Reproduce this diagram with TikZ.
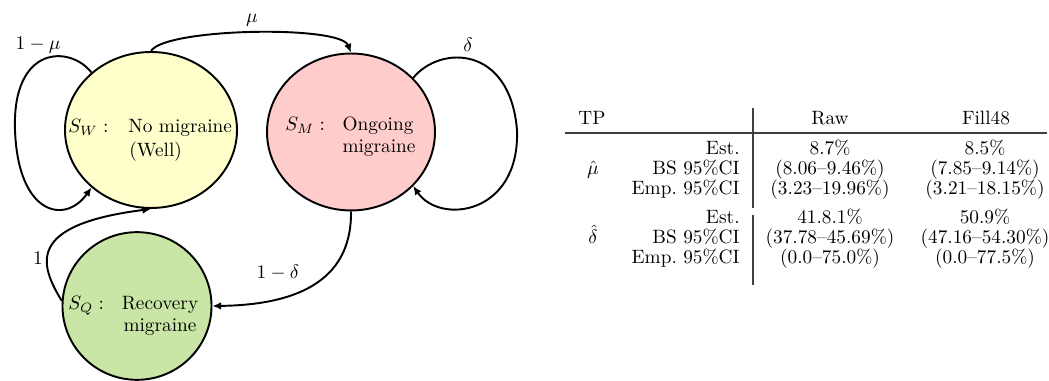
\documentclass[tikz,border=0pt]{standalone}
\usetikzlibrary{shapes.geometric,arrows.meta}
\definecolor{wellc}{HTML}{FFFFCC}
\definecolor{ongoc}{HTML}{FFCCCC}
\definecolor{recoc}{HTML}{C9E6A6}
\tikzset{
  state/.style={ellipse,draw,line width=1pt,inner sep=0pt},
  conn/.style={line width=1pt,-{Latex[length=4.5pt,width=4pt]}},
  txt/.style={inner sep=0pt,anchor=base},
  txtw/.style={inner sep=0pt,anchor=base west},
  txte/.style={inner sep=0pt,anchor=base east},
  rule/.style={line width=0.6pt,draw=black!75},
}
\begin{document}
\begin{tikzpicture}[x=0.518pt,y=-0.518pt]
\useasboundingbox (0,0) rectangle (1049,381);
% states
\node[state,fill=wellc,minimum width=89.1pt,minimum height=80.8pt] (SW) at (151,130) {};
\node[state,fill=ongoc,minimum width=87pt,minimum height=81.3pt] (SM) at (351,132) {};
\node[state,fill=recoc,minimum width=77.2pt,minimum height=76.5pt] (SQ) at (137,306) {};
% state texts
\node[txtw] (SWs) at (68,133) {$S_W:$};
\node[txtw] (SWt1) at (128,133) {No migraine};
\node[txtw] (SWt2) at (129,157) {(Well)};
\node[txtw] (SMs) at (285,131) {$S_M:$};
\node[txt] (SMt1) at (378,131) {Ongoing};
\node[txt] (SMt2) at (379,153) {migraine};
\node[txtw] (SQs) at (68,310) {$S_Q:$};
\node[txt] (SQt1) at (160,310) {Recovery};
\node[txt] (SQt2) at (160,332) {migraine};
% self loops
\draw[conn] (SW.136) .. controls (70,45) and (12,45) .. (15,130)
                     .. controls (18,215) and (65,225) .. (SW.224);
\draw[conn] (SM.41) .. controls (440,45) and (510,45) .. (517,130)
                    .. controls (520,215) and (440,225) .. (SM.319);
% transitions
\draw[conn] (SW.north) .. controls (165,28) and (340,25) .. (SM.north);
\draw[conn] (SM.south) .. controls (352,285) and (290,305) .. (SQ.east);
\draw[conn] (SQ.176) .. controls (40,265) and (25,225) .. (SW.south);
% labels
\node[inner sep=0pt] (lmu1) at (38,45) {$1-\mu$};
\node[inner sep=0pt] (lmu) at (252,20) {$\mu$};
\node[inner sep=0pt] (ldel) at (468,45) {$\delta$};
\node[inner sep=0pt] (ldel1) at (278,273) {$1-\delta$};
\node[inner sep=0pt] (lone) at (38,258) {1};
% table
\node[txtw] (hTP) at (578,125) {TP};
\node[txt] (hRaw) at (830,125) {Raw};
\node[txt] (hFill) at (986,125) {Fill48};
\draw[rule] (565,133) -- (1047,133);
\draw[rule] (753,108) -- (753,208);
\draw[rule] (753,215) -- (753,285);
\node[txt] (mu) at (593,175) {$\hat{\mu}$};
\node[txte] (r1) at (740,155) {Est.};
\node[txte] (r2) at (740,175) {BS 95\%CI};
\node[txte] (r3) at (740,195) {Emp.\ 95\%CI};
\node[txt] (a1) at (830,155) {8.7\%};
\node[txt] (a2) at (830,175) {(8.06--9.46\%)};
\node[txt] (a3) at (830,195) {(3.23--19.96\%)};
\node[txt] (b1) at (985,155) {8.5\%};
\node[txt] (b2) at (985,175) {(7.85--9.14\%)};
\node[txt] (b3) at (985,195) {(3.21--18.15\%)};
\node[txt] (dl) at (593,244) {$\hat{\delta}$};
\node[txte] (r4) at (740,224) {Est.};
\node[txte] (r5) at (740,244) {BS 95\%CI};
\node[txte] (r6) at (740,264) {Emp.\ 95\%CI};
\node[txt] (a4) at (830,224) {41.8.1\%};
\node[txt] (a5) at (830,244) {(37.78--45.69\%)};
\node[txt] (a6) at (830,264) {(0.0--75.0\%)};
\node[txt] (b4) at (985,224) {50.9\%};
\node[txt] (b5) at (985,244) {(47.16--54.30\%)};
\node[txt] (b6) at (985,264) {(0.0--77.5\%)};
\end{tikzpicture}
\end{document}
